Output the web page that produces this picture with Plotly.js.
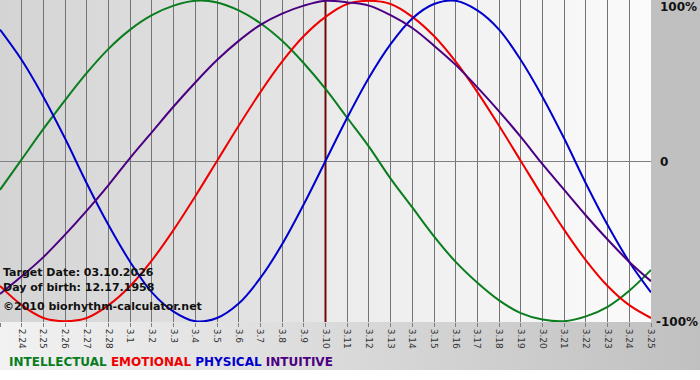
<!DOCTYPE html>
<html>
<head>
<meta charset="utf-8">
<script src="https://cdn.plot.ly/plotly-3.0.1.min.js"></script>
<style>
html,body{margin:0;padding:0;background:#fff;}
#chart{width:700px;height:380px;
background:
 linear-gradient(to right,#d4d4d4,#e6e6e6) 0 0 / 325px 322px no-repeat,
 linear-gradient(to right,#ebebeb,#fbfbfb) 325px 0 / 326px 322px no-repeat,
 linear-gradient(#c0c0c0,#c0c0c0) 651px 0 / 49px 322px no-repeat,
 linear-gradient(to right,#f2f2f2,#c0c0c0) 0 322px / 700px 48px no-repeat,
 #ffffff;}
</style>
</head>
<body>
<div id="chart"></div>
<script>
// Day labels (month.day)
const days = ["2.23","2.24","2.25","2.26","2.27","2.28","3.1","3.2","3.3","3.4","3.5","3.6","3.7","3.8","3.9","3.10",
  "3.11","3.12","3.13","3.14","3.15","3.16","3.17","3.18","3.19","3.20","3.21","3.22","3.23","3.24","3.25"];
const targetDay = "3.10";

// Values (-1 = -100%, 1 = 100%), one per day
const intellectual = [-0.18,0.01,0.20,0.38,0.55,0.70,0.82,0.91,0.97,1.00,0.99,0.94,0.86,0.75,0.61,0.45,
  0.27,0.09,-0.11,-0.29,-0.47,-0.63,-0.76,-0.87,-0.95,-0.99,-1.00,-0.97,-0.91,-0.81,-0.68];
const emotional = [-0.78,-0.90,-0.98,-1.00,-0.98,-0.90,-0.78,-0.62,-0.43,-0.22,0.00,0.22,0.43,0.62,0.78,0.90,
  0.98,1.00,0.98,0.90,0.78,0.62,0.43,0.22,0.00,-0.22,-0.43,-0.62,-0.78,-0.90,-0.98];
const physical = [0.82,0.63,0.40,0.14,-0.14,-0.40,-0.63,-0.82,-0.94,-1.00,-0.98,-0.89,-0.73,-0.52,-0.27,0.00,
  0.27,0.52,0.73,0.89,0.98,1.00,0.94,0.82,0.63,0.40,0.14,-0.14,-0.40,-0.63,-0.82];
const intuitive = [-0.83,-0.72,-0.60,-0.46,-0.31,-0.15,0.02,0.18,0.34,0.49,0.63,0.75,0.85,0.92,0.97,1.00,
  0.99,0.97,0.91,0.83,0.72,0.60,0.46,0.31,0.15,-0.02,-0.18,-0.34,-0.49,-0.63,-0.75];

const seriesNames = ["INTELLECTUAL","EMOTIONAL","PHYSICAL","INTUITIVE"];
const seriesColors = ["#0a7d1e","#ee0000","#0000cc","#4b0082"];
const seriesData = [intellectual, emotional, physical, intuitive];

const xs = days.map((d,i)=>i);
const targetIdx = days.indexOf(targetDay);

const targetTrace = {
  type:"scatter", mode:"lines", x:[targetIdx,targetIdx], y:[-1.005,1.005],
  line:{color:"#6e0a0a", width:2}, hoverinfo:"skip", showlegend:false
};

const traces = [targetTrace].concat(seriesData.map((vals,k)=>({
  type:"scatter", mode:"lines", x:xs, y:vals, name:seriesNames[k],
  line:{color:seriesColors[k], width:2, shape:"spline", smoothing:1},
  hoverinfo:"skip"
})));

const legendHtml = seriesNames.map((n,k)=>`<span style="color:${seriesColors[k]}">${n}</span>`).join(" ");

const layout = {
  width:700, height:380,
  margin:{l:0, r:49, t:0, b:58, pad:0},
  paper_bgcolor:"rgba(0,0,0,0)",
  plot_bgcolor:"rgba(0,0,0,0)",
  showlegend:false,
  font:{family:"DejaVu Sans, Verdana, sans-serif"},
  xaxis:{
    range:[0, days.length-1], tickmode:"array", tickvals:xs, ticktext:days,
    tickangle:90, ticks:"outside", ticklen:4, tickcolor:"#808080", tickwidth:1,
    tickfont:{size:9, color:"#333", family:"DejaVu Sans, Verdana, sans-serif"},
    showgrid:true, gridcolor:"#747474", gridwidth:1, zeroline:false, showline:false,
    fixedrange:true, automargin:false
  },
  yaxis:{
    range:[-1.005,1.005], showticklabels:false, showgrid:false,
    zeroline:true, zerolinecolor:"#808080", zerolinewidth:1, showline:false,
    fixedrange:true, automargin:false
  },
  annotations:[
    {xref:"paper",yref:"paper",x:1.011,y:0.978,xanchor:"left",yanchor:"middle",showarrow:false,
     text:"<b>100%</b>",font:{size:12,color:"#111"}},
    {xref:"paper",yref:"paper",x:1.011,y:0.497,xanchor:"left",yanchor:"middle",showarrow:false,
     text:"<b>0</b>",font:{size:12,color:"#111"}},
    {xref:"paper",yref:"paper",x:1.004,y:0.0,xanchor:"left",yanchor:"middle",showarrow:false,
     text:"<b>-100%</b>",font:{size:12,color:"#111"}},
    {xref:"paper",yref:"paper",x:0.002,y:0.155,xanchor:"left",yanchor:"middle",showarrow:false,
     text:"<b>Target Date: 03.10.2026</b>",font:{size:11,color:"#111"}},
    {xref:"paper",yref:"paper",x:0.002,y:0.108,xanchor:"left",yanchor:"middle",showarrow:false,
     text:"<b>Day of birth: 12.17.1958</b>",font:{size:11,color:"#111"}},
    {xref:"paper",yref:"paper",x:0.002,y:0.047,xanchor:"left",yanchor:"middle",showarrow:false,
     text:"<b>©2010 biorhythm-calculator.net</b>",font:{size:11,color:"#111"}},
    {xref:"paper",yref:"paper",x:0.011,y:-0.124,xanchor:"left",yanchor:"middle",showarrow:false,
     text:"<b>"+legendHtml+"</b>",font:{size:12}}
  ]
};

Plotly.newPlot("chart", traces, layout, {staticPlot:true, displayModeBar:false});
</script>
</body>
</html>
